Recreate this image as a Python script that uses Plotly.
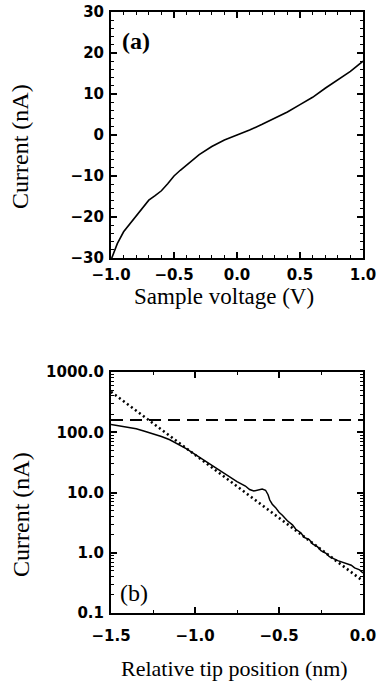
import plotly.graph_objects as go

# Panel (a): I-V curve
voltage = [-1.0, -0.95, -0.9, -0.85, -0.8, -0.75, -0.7, -0.65, -0.6, -0.55, -0.5, -0.45, -0.4,
           -0.3, -0.2, -0.1, 0.0, 0.1, 0.2, 0.3, 0.4, 0.5, 0.6, 0.7, 0.8, 0.9, 1.0]
current_a = [-30.5, -26.5, -23.6, -21.6, -19.9, -17.8, -15.9, -14.8, -13.6, -11.9, -10.0, -8.6, -7.3,
             -4.8, -2.8, -1.2, 0.0, 1.2, 2.6, 4.1, 5.6, 7.4, 9.2, 11.4, 13.4, 15.5, 18.0]

# Panel (b): current vs relative tip position (log scale)
tip_pos = [-1.5, -1.45, -1.4, -1.35, -1.3, -1.25, -1.2, -1.15, -1.1, -1.05, -1.0, -0.95, -0.9,
           -0.85, -0.8, -0.75, -0.7, -0.675, -0.65, -0.625, -0.6, -0.58, -0.565, -0.555, -0.54,
           -0.52, -0.5, -0.48, -0.45, -0.42, -0.4, -0.37, -0.35, -0.32, -0.3, -0.27, -0.25,
           -0.22, -0.2, -0.15, -0.1, -0.07, -0.05, -0.02, 0.0]
current_b = [135, 128, 121, 114, 104, 95, 85, 75, 64, 53, 43, 35, 28.5,
             22.5, 18.5, 15.2, 12.8, 11.2, 10.6, 11.0, 11.4, 10.9, 9.2, 7.5, 6.4,
             5.6, 4.7, 4.2, 3.4, 2.9, 2.45, 2.15, 1.8, 1.65, 1.4, 1.25, 1.08,
             0.98, 0.86, 0.74, 0.66, 0.62, 0.56, 0.52, 0.46]

# exponential fit (dotted) and saturation level (dashed)
fit_pos = [-1.5, 0.0]
fit_current = [470, 0.34]
sat_pos = [-1.5, 0.0]
sat_current = [160, 160]

W, H = 381, 683
def px_x(p):
    return p / W
def px_y(p):
    return 1 - p / H

tickfont = dict(family="DejaVu Sans", size=15, color="black", weight="bold")
serif = "Liberation Serif"

fig = go.Figure()
fig.add_trace(go.Scatter(x=voltage, y=current_a, mode="lines",
                         line=dict(color="black", width=1.6), xaxis="x", yaxis="y"))
fig.add_trace(go.Scatter(x=sat_pos, y=sat_current, mode="lines",
                         line=dict(color="black", width=2, dash="12px,7px"), xaxis="x2", yaxis="y2"))
fig.add_trace(go.Scatter(x=fit_pos, y=fit_current, mode="lines",
                         line=dict(color="black", width=2.6, dash="2px,3px"), xaxis="x2", yaxis="y2"))
fig.add_trace(go.Scatter(x=tip_pos, y=current_b, mode="lines",
                         line=dict(color="black", width=1.5), xaxis="x2", yaxis="y2"))

common = dict(showline=True, linewidth=2, linecolor="black", mirror="allticks",
              ticks="inside", ticklen=6, tickwidth=1.5, tickcolor="black",
              showgrid=False, zeroline=False, tickfont=tickfont, automargin=False)

fig.update_layout(
    template="none",
    width=W, height=H, showlegend=False,
    paper_bgcolor="white", plot_bgcolor="white",
    margin=dict(l=0, r=0, t=0, b=0, pad=0),
    xaxis=dict(domain=[px_x(111), px_x(363)], range=[-1, 1], tickvals=[-1, -0.5, 0, 0.5, 1],
               tickformat=".1f", anchor="y", ticklabelstandoff=2,
               minor=dict(dtick=0.1, tick0=0, ticks="inside", ticklen=3, tickwidth=1.2, tickcolor="black"),
               **common),
    yaxis=dict(domain=[px_y(258), px_y(12)], range=[-30, 30], tickvals=[-30, -20, -10, 0, 10, 20, 30],
               anchor="x", ticklabelstandoff=2,
               minor=dict(dtick=2, tick0=0, ticks="inside", ticklen=3, tickwidth=1.2, tickcolor="black"),
               **common),
    xaxis2=dict(domain=[px_x(111), px_x(363)], range=[-1.5, 0], tickvals=[-1.5, -1.0, -0.5, 0.0],
                tickformat=".1f", anchor="y2", ticklabelstandoff=8,
                minor=dict(dtick=0.25, tick0=0, ticks="inside", ticklen=3, tickwidth=1.2, tickcolor="black"),
                **common),
    yaxis2=dict(domain=[px_y(613), px_y(372)], type="log", range=[-1, 3],
                tickvals=[0.1, 1, 10, 100, 1000], ticktext=["0.1", "1.0", "10.0", "100.0", "1000.0"],
                anchor="x2", ticklabelstandoff=2,
                minor=dict(dtick="D1", ticks="inside", ticklen=3, tickwidth=1.2, tickcolor="black"),
                **common),
)

ann = []
ann.append(dict(text="Sample voltage (V)", x=px_x(224), y=px_y(297), xref="paper", yref="paper",
                showarrow=False, xanchor="center", yanchor="middle",
                font=dict(family=serif, size=23, color="black")))
ann.append(dict(text="Relative tip position (nm)", x=px_x(234), y=px_y(668), xref="paper", yref="paper",
                showarrow=False, xanchor="center", yanchor="middle",
                font=dict(family=serif, size=22, color="black")))
ann.append(dict(text="Current (nA)", x=px_x(20), y=px_y(147), xref="paper", yref="paper",
                showarrow=False, xanchor="center", yanchor="middle", textangle=-90,
                font=dict(family=serif, size=24, color="black")))
ann.append(dict(text="Current (nA)", x=px_x(21), y=px_y(515), xref="paper", yref="paper",
                showarrow=False, xanchor="center", yanchor="middle", textangle=-90,
                font=dict(family=serif, size=24, color="black")))
ann.append(dict(text="<b>(a)</b>", x=px_x(136), y=px_y(41), xref="paper", yref="paper",
                showarrow=False, xanchor="center", yanchor="middle",
                font=dict(family=serif, size=24, color="black")))
ann.append(dict(text="(b)", x=px_x(134), y=px_y(593), xref="paper", yref="paper",
                showarrow=False, xanchor="center", yanchor="middle",
                font=dict(family=serif, size=24, color="black")))
fig.update_layout(annotations=ann)

fig.write_html("out.html", config={"displayModeBar": False},
               post_script="document.body.style.margin='0';")
